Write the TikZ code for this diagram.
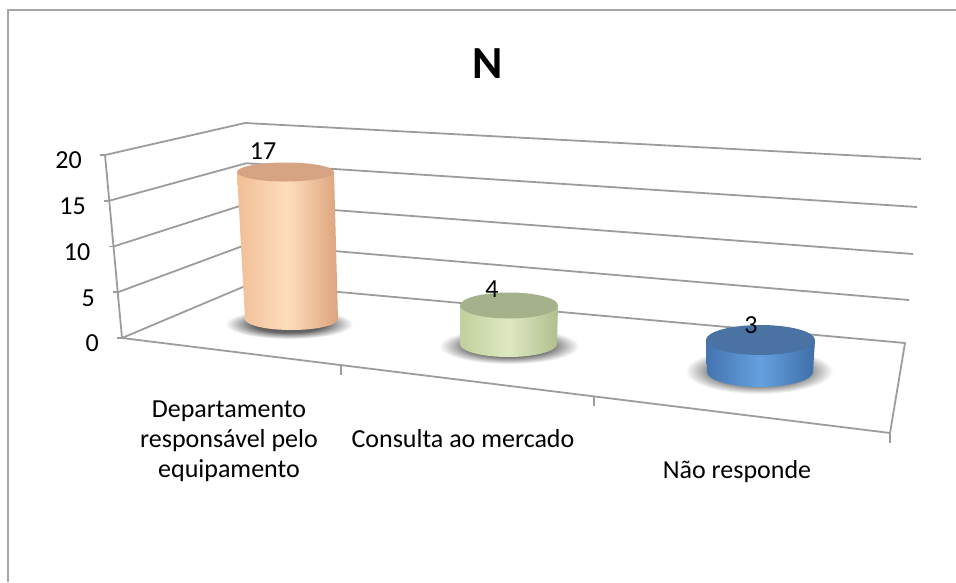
\documentclass[tikz,border=0pt]{standalone}
\usepackage{fontspec}
\setmainfont{Carlito}
\definecolor{gridc}{HTML}{9C9C9C}
\definecolor{framec}{HTML}{A6A6A6}
\definecolor{orL}{HTML}{F0BE96}
\definecolor{orM}{HTML}{FEDDBC}
\definecolor{orR}{HTML}{DCA47C}
\definecolor{orT}{HTML}{D6A482}
\definecolor{grL}{HTML}{C2D09C}
\definecolor{grM}{HTML}{DEE8C2}
\definecolor{grR}{HTML}{B0BE8C}
\definecolor{grT}{HTML}{A5B18B}
\definecolor{blL}{HTML}{4574B0}
\definecolor{blM}{HTML}{64A0DE}
\definecolor{blR}{HTML}{3E6EA8}
\definecolor{blT}{HTML}{4A72A2}
\pgfdeclareradialshading{cylshadow}{\pgfpoint{0bp}{0bp}}{color(0bp)=(black!70); color(14bp)=(black!60); color(25bp)=(white); color(50bp)=(white)}
\newcommand\drawcyl[9]{%
  \shade[left color=#9L, right color=#9R, middle color=#9M]
    (#1-#3,-#2) -- (#5-#7,-#6)
    arc[start angle=180, end angle=360, x radius=#7, y radius=#8]
    -- (#1+#3,-#2) -- cycle;
  \fill[#9T] (#1,-#2) ellipse[x radius=#3, y radius=#4];
}
\begin{document}
\begin{tikzpicture}[x=1pt,y=1pt,
  grid/.style={draw=gridc, line width=1.8pt, line join=round},
  axlab/.style={font=\fontsize{26}{30}\selectfont, inner sep=0pt, anchor=east},
  catlab/.style={font=\fontsize{26}{30}\selectfont, inner sep=0pt, anchor=base},
  vallab/.style={font=\fontsize{26}{30}\selectfont, inner sep=0pt, anchor=base}]
\useasboundingbox (0,0) rectangle (956,-582);
\fill[white] (0,0) rectangle (956,-582);
\draw[framec, line width=2pt] (8,-582) -- (8,-10) -- (956,-10);

% title
\node[font=\fontsize{46}{50}\selectfont\bfseries, inner sep=0pt, anchor=base] (title) at (488,-78) {N};

% wall / floor coordinates
\coordinate (F20) at (105,-155);
\coordinate (F15) at (109.25,-200.75);
\coordinate (F10) at (113.5,-246.5);
\coordinate (F5)  at (117.75,-292.25);
\coordinate (F0)  at (122,-338);
\coordinate (B20) at (245,-123);
\coordinate (B15) at (246.25,-163.25);
\coordinate (B10) at (247.5,-203.5);
\coordinate (B5)  at (248.75,-243.75);
\coordinate (B0)  at (250,-284);
\coordinate (R20) at (921,-159);
\coordinate (R15) at (917,-207);
\coordinate (R10) at (913,-254);
\coordinate (R5)  at (909,-300);
\coordinate (R0)  at (905,-343);
\coordinate (FR)  at (890,-433);
\coordinate (T1)  at (341,-365.1);
\coordinate (T2)  at (594,-396.4);

\draw[grid] (F20) -- (B20) -- (R20);
\draw[grid] (F15) -- (B15) -- (R15);
\draw[grid] (F10) -- (B10) -- (R10);
\draw[grid] (F5) -- (B5) -- (R5);
\draw[grid] (F0) -- (B0) -- (R0) -- (FR) -- cycle;
\draw[grid] (F20) -- (F0);
\foreach \p in {F20,F15,F10,F5,F0} \draw[grid] (\p) -- ++(-5,0);
\foreach \p in {T1,T2,FR} \draw[grid] (\p) -- ++(0,-10);

% axis labels
\node[axlab] (l20) at (82,-160) {20};
\node[axlab] (l15) at (86,-206) {15};
\node[axlab] (l10) at (90.5,-252) {10};
\node[axlab] (l5)  at (95,-298) {5};
\node[axlab] (l0)  at (99,-343) {0};

% shadows
\shade[shading=cylshadow] (289,-324) ellipse[x radius=64, y radius=15];
\shade[shading=cylshadow] (509,-346) ellipse[x radius=70, y radius=18];
\shade[shading=cylshadow] (759,-371) ellipse[x radius=74, y radius=23];

% cylinders
\drawcyl{285.5}{172}{48.5}{9.5}{291.5}{319}{46.5}{11}{or}
\drawcyl{509}{305.5}{49}{13}{508.5}{344}{48.5}{13}{gr}
\drawcyl{760.5}{340}{54.5}{15}{760}{372}{53}{15}{bl}

% value labels
\node[vallab] (v1) at (263,-159) {17};
\node[vallab] (v2) at (492,-297) {4};
\node[vallab] (v3) at (751,-333) {3};

% category labels
\node[catlab] (c1a) at (229,-417) {Departamento};
\node[catlab] (c1b) at (229,-447) {responsável pelo};
\node[catlab] (c1c) at (229,-477) {equipamento};
\node[catlab] (c2) at (463,-447) {Consulta ao mercado};
\node[catlab] (c3) at (737,-478) {Não responde};
\end{tikzpicture}
\end{document}
